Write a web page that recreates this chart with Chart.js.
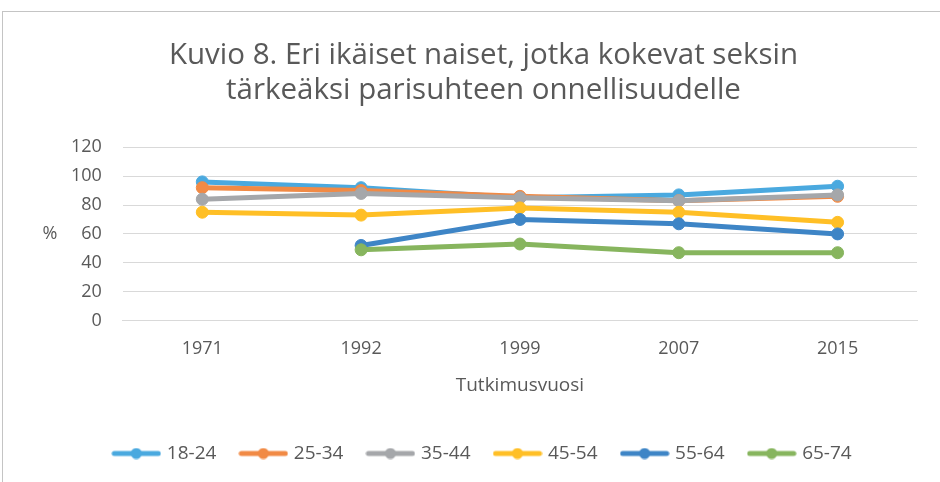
<!DOCTYPE html>
<html>
<head>
<meta charset="utf-8">
<script src="https://cdn.jsdelivr.net/npm/chart.js@4/dist/chart.umd.min.js"></script>
<style>
  html, body { margin: 0; padding: 0; background: #fff; }
  #wrap { position: relative; width: 940px; height: 482px; overflow: hidden; }
  #frame { position: absolute; left: 2px; top: 11px; width: 1000px; height: 1000px; border: 1px solid #c4c4c4; }
  #chartBox { position: absolute; left: 0; top: 0; width: 940px; height: 482px; }
</style>
</head>
<body>
<div id="wrap">
  <div id="frame"></div>
  <div id="chartBox"><canvas id="chartWomen"></canvas></div>
</div>
<script>
const TEXT = '#595959';
const GRID = '#d9d9d9';
const FONT = "'Open Sans', sans-serif";

const years = ['1971', '1992', '1999', '2007', '2015'];
const yTicks = [0, 20, 40, 60, 80, 100, 120];

const ageGroups = ['18-24', '25-34', '35-44', '45-54', '55-64', '65-74'];
const colors = ['#4aa9df', '#f18a45', '#a5a7aa', '#ffbf26', '#3e85c6', '#87b55e'];

const age18_24 = [96, 92, 85, 87, 93];
const age25_34 = [92, 90, 86, 83, 86];
const age35_44 = [84, 88, 85, 83, 87];
const age45_54 = [75, 73, 78, 75, 68];
const age55_64 = [null, 52, 70, 67, 60];
const age65_74 = [null, 49, 53, 47, 47];

const seriesValues = [age18_24, age25_34, age35_44, age45_54, age55_64, age65_74];

// legend marker: short line with a dot, like the office legend
function legendMarker(color) {
  const c = document.createElement('canvas');
  c.width = 50; c.height = 12;
  const g = c.getContext('2d');
  g.strokeStyle = color;
  g.lineWidth = 5;
  g.lineCap = 'round';
  g.beginPath(); g.moveTo(3, 6); g.lineTo(47, 6); g.stroke();
  g.fillStyle = color;
  g.beginPath(); g.arc(25, 6, 5.5, 0, Math.PI * 2); g.fill();
  return c;
}

// unrotated "%" next to the y axis
const percentLabel = {
  id: 'percentLabel',
  afterDraw(chart) {
    const y = chart.scales.y;
    const g = chart.ctx;
    g.save();
    g.font = '18px ' + FONT;
    g.fillStyle = TEXT;
    g.textAlign = 'center';
    g.textBaseline = 'middle';
    g.fillText('%', 50, y.getPixelForValue(60));
    g.restore();
  }
};

const datasets = ageGroups.map((name, i) => ({
  label: name,
  data: seriesValues[i],
  borderColor: colors[i],
  backgroundColor: colors[i],
  borderWidth: 5,
  pointRadius: 6,
  pointBorderWidth: 1,
  pointBorderColor: colors[i],
  pointBackgroundColor: colors[i],
  fill: false,
  tension: 0,
  order: ageGroups.length - i,   // later series sit on top
}));

new Chart(document.getElementById('chartWomen').getContext('2d'), {
  type: 'line',
  data: { labels: years, datasets },
  plugins: [percentLabel],
  options: {
    responsive: true,
    maintainAspectRatio: false,
    animation: false,
    layout: { padding: { left: 50, right: 23, top: 0, bottom: 9 } },
    plugins: {
      title: {
        display: true,
        text: ['Kuvio 8. Eri ikäiset naiset, jotka kokevat seksin', 'tärkeäksi parisuhteen onnellisuudelle'],
        color: TEXT,
        font: { family: FONT, size: 29.5, weight: 'normal', lineHeight: 1.19 },
        padding: { top: 38, bottom: 39 },
      },
      legend: {
        position: 'bottom',
        labels: {
          usePointStyle: true,
          pointStyleWidth: 42,
          padding: 26,
          color: TEXT,
          font: { family: FONT, size: 19 },
          generateLabels: chart => chart.data.datasets.map((ds, i) => ({
            text: ds.label,
            fillStyle: ds.borderColor,
            strokeStyle: ds.borderColor,
            lineWidth: 0,
            pointStyle: legendMarker(ds.borderColor),
            fontColor: TEXT,
            hidden: false,
            datasetIndex: i,
          })),
        },
      },
      tooltip: { enabled: false },
    },
    scales: {
      x: {
        offset: true,
        grid: { display: false, drawTicks: false },
        border: { display: true, color: GRID, width: 1 },
        ticks: { color: TEXT, padding: 17, font: { family: FONT, size: 18 } },
        title: {
          display: true,
          text: 'Tutkimusvuosi',
          color: TEXT,
          font: { family: FONT, size: 19 },
          padding: { top: -2, bottom: 21 },
        },
      },
      y: {
        min: 0,
        max: 120,
        afterBuildTicks: axis => { axis.ticks = yTicks.map(v => ({ value: v })); },
        grid: { color: GRID, lineWidth: 1, drawTicks: false },
        border: { display: false },
        ticks: { color: TEXT, padding: 21, autoSkip: false, font: { family: FONT, size: 18 } },
      },
    },
  },
});
</script>
</body>
</html>
